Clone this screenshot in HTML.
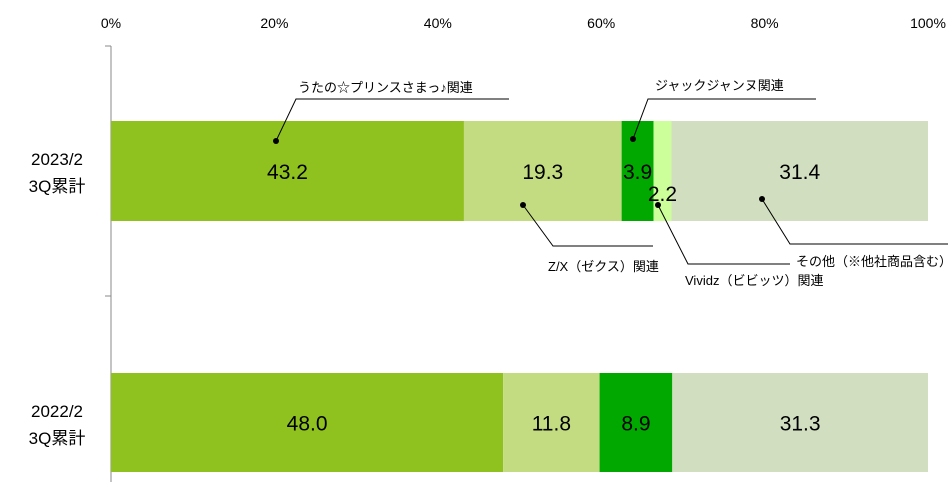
<!DOCTYPE html>
<html><head><meta charset="utf-8"><style>
body{margin:0;background:#fff}
svg{display:block;font-family:"Liberation Sans","Noto Sans CJK JP",sans-serif}
</style></head><body>
<svg id="c" width="948" height="482"></svg>
<script>
const categories=["2023/2|3Q累計","2022/2|3Q累計"];
const seriesNames=["うたの☆プリンスさまっ♪関連","Z/X（ゼクス）関連","ジャックジャンヌ関連","Vividz（ビビッツ）関連","その他（※他社商品含む）"];
const s2023=[43.2,19.3,3.9,2.2,31.4];
const s2022=[48.0,11.8,8.9,0,31.3];
const ticks=[0,20,40,60,80,100];
const colors=["#8fc21f","#c3dc82","#00a800","#ccff99","#d1dfc0"];
const NS="http://www.w3.org/2000/svg",svg=document.getElementById('c');
const X0=111,W=817;const x=v=>X0+v/100*W;
const bars=[{y:121,h:100,vals:s2023,ly:171},{y:373,h:99,vals:s2022,ly:423}];
function el(t,a,p){const e=document.createElementNS(NS,t);for(const k in a)e.setAttribute(k,a[k]);(p||svg).appendChild(e);return e;}
ticks.forEach(t=>{const e=el('text',{x:x(t),y:28,'text-anchor':'middle','font-size':14,fill:'#000'});e.textContent=t+'%';

});
const ax=el('line',{x1:X0,y1:46,x2:X0,y2:482,stroke:'#888','stroke-width':1});


[46,296].forEach(y=>{const t=el('line',{x1:105,y1:y,x2:X0,y2:y,stroke:'#888'});

});
bars.forEach((b,bi)=>{let acc=0;
const lab=categories[bi].split('|');
lab.forEach((l,i)=>{const t=el('text',{x:57,y:b.ly-6+i*27,'text-anchor':'middle','font-size':17,fill:'#000'});t.textContent=l;

});
b.vals.forEach((v,i)=>{if(v<=0)return;const r=el('rect',{x:x(acc),y:b.y,width:x(acc+v)-x(acc),height:b.h,fill:colors[i]});


acc+=v;});});
bars.forEach((b,bi)=>{let acc=0;
b.vals.forEach((v,i)=>{if(v<=0)return;
let cx=(x(acc)+x(acc+v))/2,cy=b.y+b.h/2+8;
if(bi===0&&i===3){cy+=22;}
const t=el('text',{x:cx,y:cy,'text-anchor':'middle','font-size':21,fill:'#000'});t.textContent=v.toFixed(1);


acc+=v;});});
const callouts=[
 {p:[[276,141],[296,99],[509,99]],tx:298,ty:92,n:0},
 {p:[[523,205],[553,246],[653,246]],tx:548,ty:271,n:1},
 {p:[[633,139],[648,99],[816,99]],tx:655,ty:90,n:2},
 {p:[[658,205],[688,264],[790,264]],tx:685,ty:285,n:3},
 {p:[[762,199],[790,244],[948,244]],tx:796,ty:266,n:4}];
callouts.forEach(c=>{const l=el('polyline',{points:c.p.map(q=>q.join(',')).join(' '),fill:'none',stroke:'#000','stroke-width':1});


const d=el('circle',{cx:c.p[0][0],cy:c.p[0][1],r:3,fill:'#000'});


const t=el('text',{x:c.tx,y:c.ty,'font-size':13,fill:'#000'});t.textContent=seriesNames[c.n];

});
</script>
</body></html>
